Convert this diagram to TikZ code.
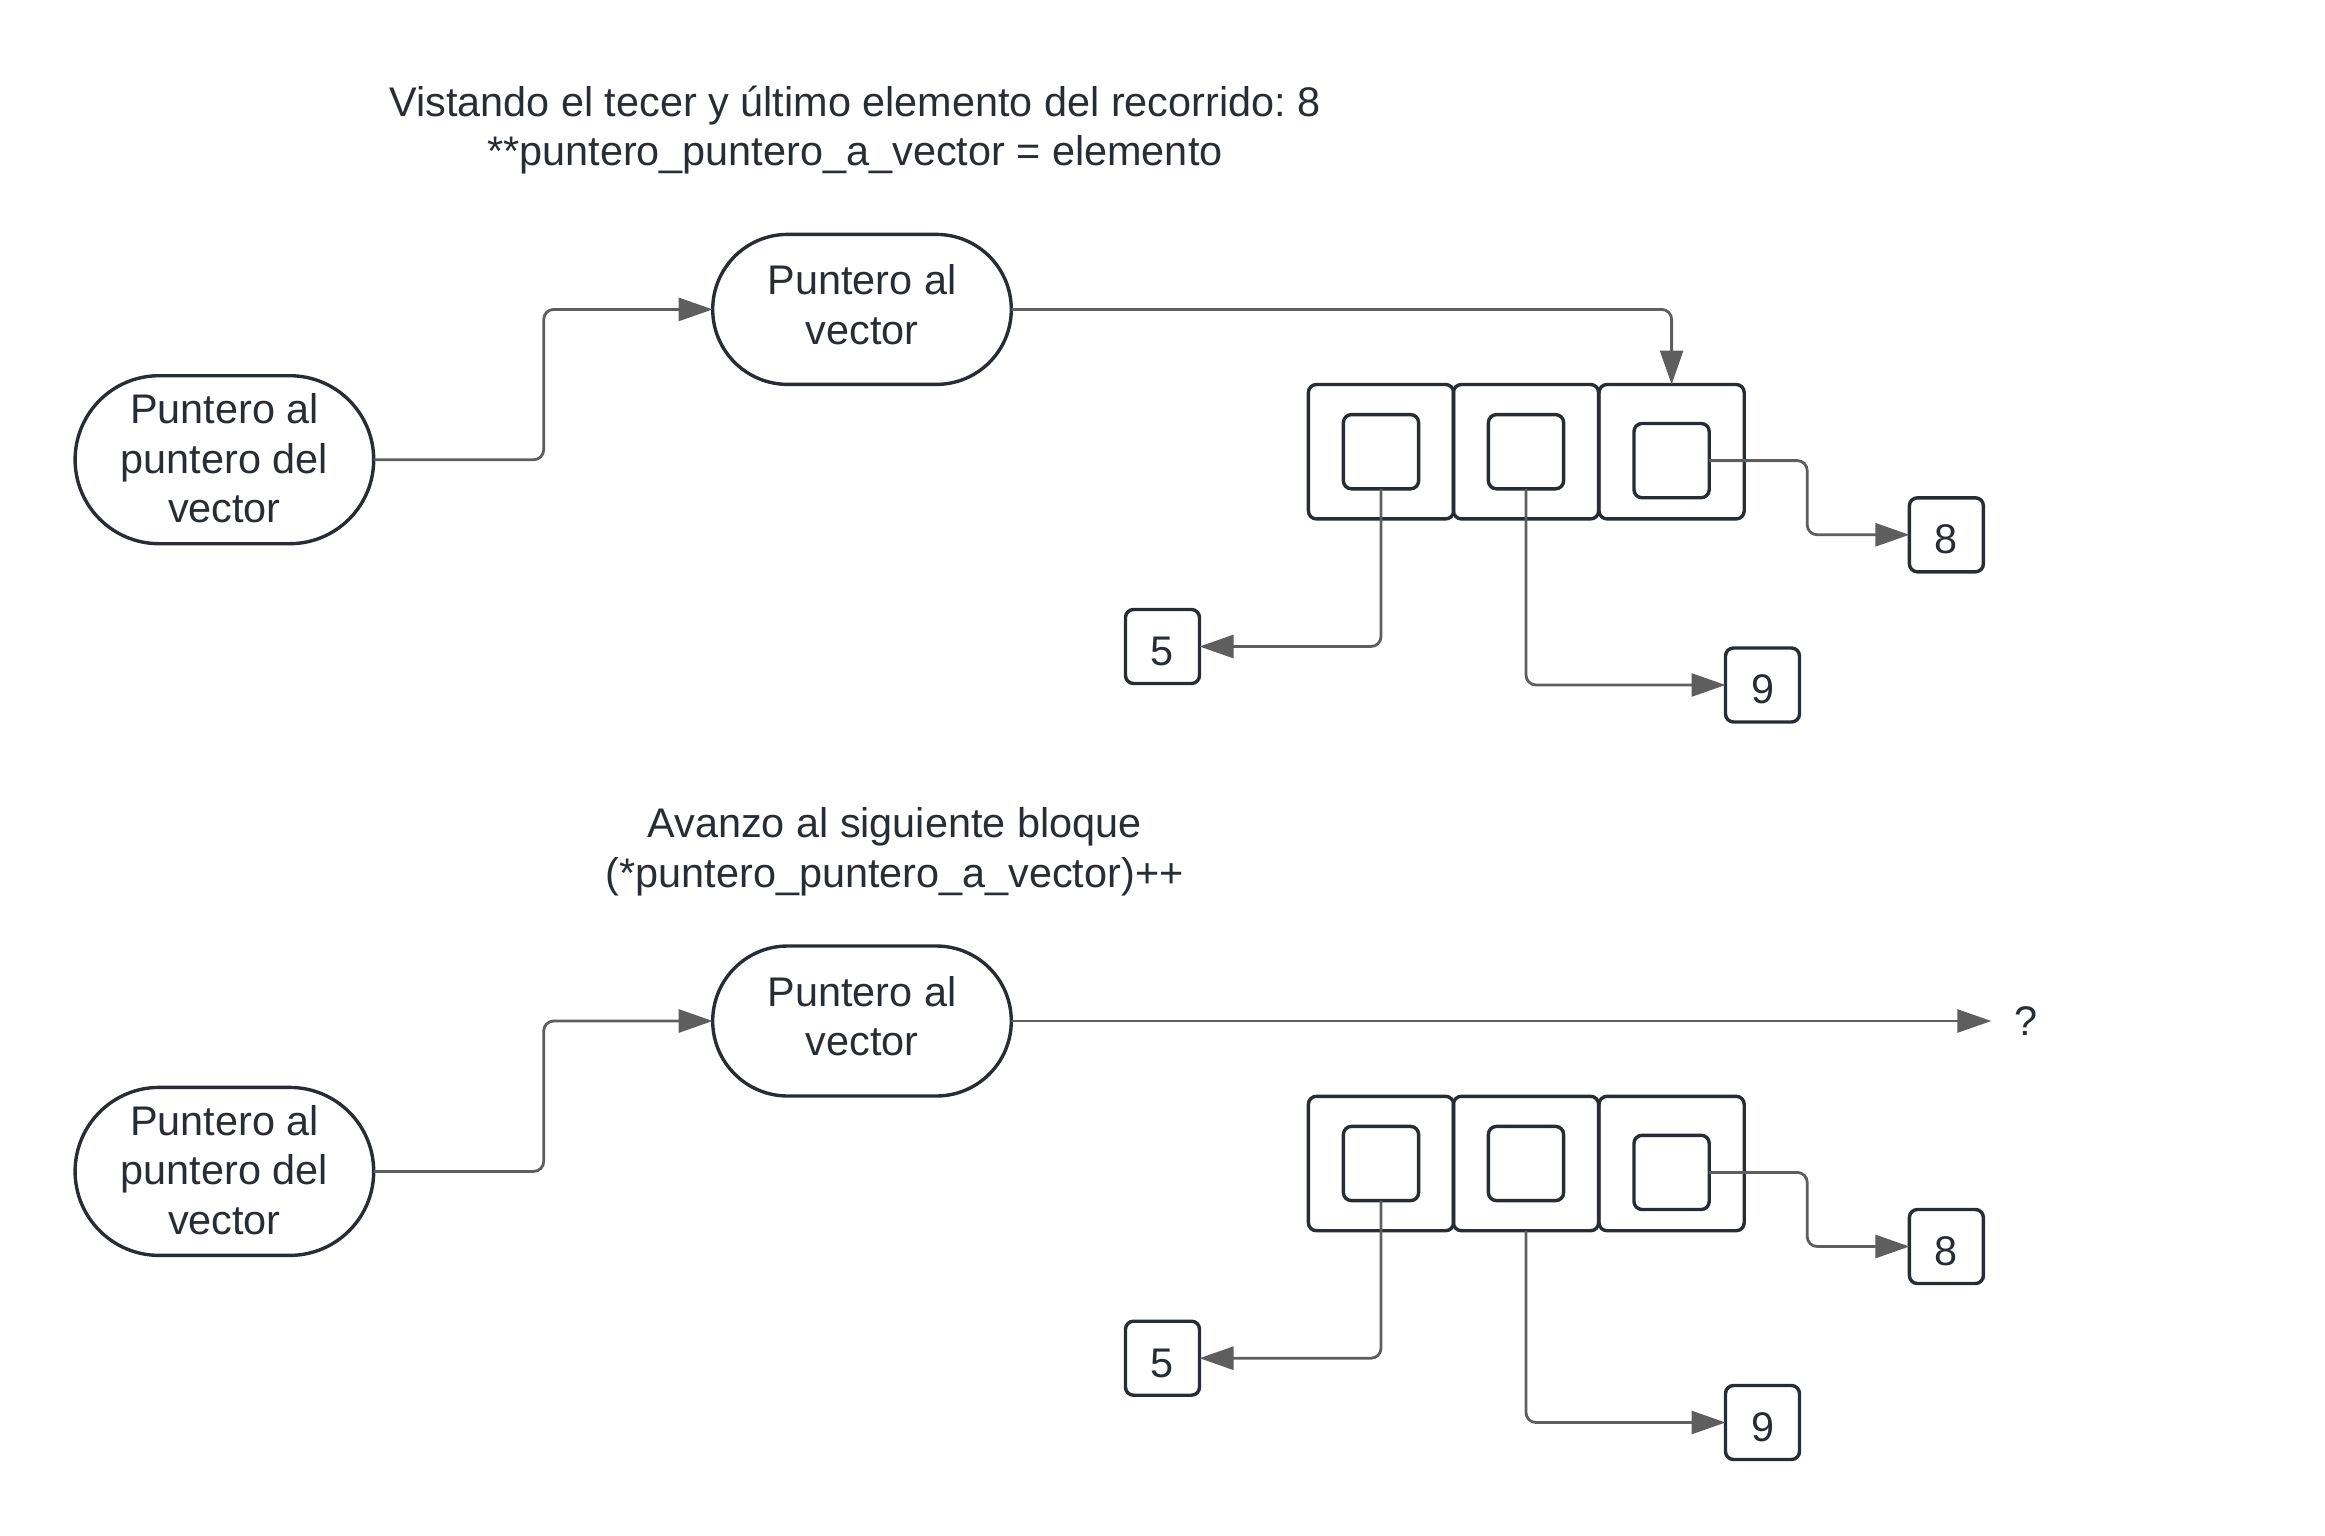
\documentclass[tikz,border=0pt]{standalone}
\usepackage{fontspec}
\setsansfont{Liberation Sans}
\usepackage{tkz-graph}
\usetikzlibrary{arrows.meta}
\usetikzlibrary{shapes.misc}
\definecolor{ink}{HTML}{282C33}
\definecolor{wire}{HTML}{5E5E5E}

\begin{document}
\begin{tikzpicture}[x = 0.5pt, y = -0.5pt, font=\sffamily\fontsize{20.7}{24.8}\selectfont\frenchspacing]
	\tikzstyle{VertexStyle} = []
	\tikzstyle{EdgeStyle} = []
	\tikzstyle{titleStyle} = [align = center, text = ink]
	\tikzstyle{roundStyle} = [shape = rounded rectangle, draw = ink, line width = 1.7pt, text = ink, align = center, inner sep = 0pt, text depth = 5pt, minimum width = 149.3pt, minimum height = 75pt]
	\tikzstyle{bigRoundStyle} = [roundStyle, text depth = 1.5pt, minimum height = 84pt]
	\tikzstyle{blockStyle} = [shape = rectangle, rounded corners = 4pt, draw = ink, line width = 1.7pt, minimum width = 72.6pt, minimum height = 67.2pt]
	\tikzstyle{cellStyle} = [shape = rectangle, rounded corners = 4pt, draw = ink, line width = 1.7pt, minimum width = 37.6pt, minimum height = 37.1pt]
	\tikzstyle{valueStyle} = [shape = rectangle, rounded corners = 4pt, draw = ink, line width = 1.7pt, text = ink, minimum size = 37pt, inner sep = 0pt, text height = 18.8pt, text depth = 0pt]
	\tikzstyle{arrowStyle} = [draw = wire, line width = 1.4pt, rounded corners = 5pt, -{Triangle[length = 17pt, width = 11.5pt]}]
	\useasboundingbox (0,0) rectangle (2325,1536);
	% primer paso
	\Vertex[style = titleStyle, x = 855, y = 130, L = {Vistando el tecer y último elemento del recorrido: 8\\**puntero\_puntero\_a\_vector = elemento}]{t1}
	\Vertex[style = bigRoundStyle, x = 224.4, y = 459.7, L = {Puntero al\\puntero del\\vector}]{pp1}
	\Vertex[style = roundStyle, x = 862, y = 309.4, L = {Puntero al\\vector}]{p1}
	\Vertex[style = blockStyle, x = 1381, y = 451.7, NoLabel]{a1}
	\Vertex[style = blockStyle, x = 1526, y = 451.7, NoLabel]{a2}
	\Vertex[style = blockStyle, x = 1671.6, y = 451.7, NoLabel]{a3}
	\Vertex[style = cellStyle, x = 1381, y = 451.7, NoLabel]{c1}
	\Vertex[style = cellStyle, x = 1526, y = 451.7, NoLabel]{c2}
	\Vertex[style = cellStyle, x = 1671.6, y = 460.6, NoLabel]{c3}
	\Vertex[style = valueStyle, x = 1162.5, y = 646.5, L = {5}]{v5}
	\Vertex[style = valueStyle, x = 1762.5, y = 685, L = {9}]{v9}
	\Vertex[style = valueStyle, x = 1946.4, y = 534.8, L = {8}]{v8}
	\draw[arrowStyle] (pp1.east) -- +(170,0) |- (p1.west);
	\draw[arrowStyle] (p1.east) -| (a3.north);
	\draw[arrowStyle] (c1.south) |- (v5.east);
	\draw[arrowStyle] (c2.south) |- (v9.west);
	\draw[arrowStyle] (c3.east) -- +(98,0) |- (v8.west);
	% segundo paso
	\Vertex[style = titleStyle, x = 894.6, y = 852, L = {Avanzo al siguiente bloque\\(*puntero\_puntero\_a\_vector)++}]{t2}
	\Vertex[style = bigRoundStyle, x = 224.4, y = 1171.4, L = {Puntero al\\puntero del\\vector}]{pp2}
	\Vertex[style = roundStyle, x = 862, y = 1021, L = {Puntero al\\vector}]{p2}
	\Vertex[style = titleStyle, x = 2025.5, y = 1021, L = {?}]{q2}
	\Vertex[style = blockStyle, x = 1381, y = 1163.5, NoLabel]{b1}
	\Vertex[style = blockStyle, x = 1526, y = 1163.5, NoLabel]{b2}
	\Vertex[style = blockStyle, x = 1671.6, y = 1163.5, NoLabel]{b3}
	\Vertex[style = cellStyle, x = 1381, y = 1163.5, NoLabel]{d1}
	\Vertex[style = cellStyle, x = 1526, y = 1163.5, NoLabel]{d2}
	\Vertex[style = cellStyle, x = 1671.6, y = 1172.4, NoLabel]{d3}
	\Vertex[style = valueStyle, x = 1162.5, y = 1358.2, L = {5}]{w5}
	\Vertex[style = valueStyle, x = 1762.5, y = 1422.5, L = {9}]{w9}
	\Vertex[style = valueStyle, x = 1946.4, y = 1246.5, L = {8}]{w8}
	\draw[arrowStyle] (pp2.east) -- +(170,0) |- (p2.west);
	\draw[arrowStyle, shorten >= 8pt] (p2.east) -- (q2.west);
	\draw[arrowStyle] (d1.south) |- (w5.east);
	\draw[arrowStyle] (b2.south) |- (w9.west);
	\draw[arrowStyle] (d3.east) -- +(98,0) |- (w8.west);
\end{tikzpicture}
\end{document}
